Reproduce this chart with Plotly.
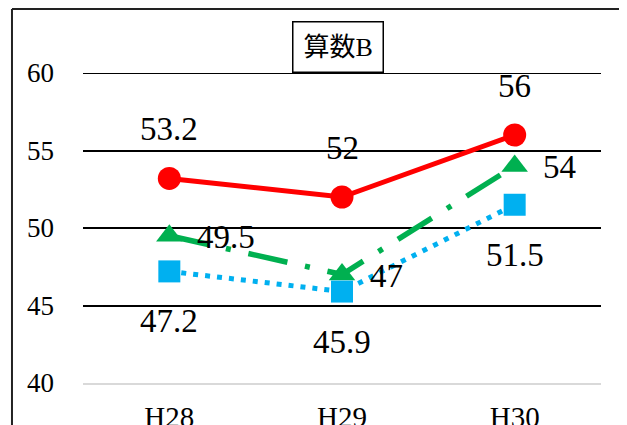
import plotly.graph_objects as go

categories = ["H28", "H29", "H30"]
red_values = [53.2, 52, 56]
green_values = [49.5, 47, 54]
blue_values = [47.2, 45.9, 51.5]
y_ticks = [40, 45, 50, 55, 60]
title_text = "算数B"

FONT = "Liberation Serif, Liberation Sans, Noto Sans CJK JP, sans-serif"

fig = go.Figure()
fig.add_trace(go.Scatter(
    x=categories, y=red_values, mode="lines+markers",
    line=dict(color="#FF0000", width=5),
    marker=dict(symbol="circle", size=23, color="#FF0000", line=dict(width=0))))
fig.add_trace(go.Scatter(
    x=categories, y=green_values, mode="lines+markers",
    line=dict(color="#00B050", width=5.5, dash="40px,18px,5px,18px"),
    marker=dict(symbol="triangle-up", size=23, color="#00B050", line=dict(width=0))))
fig.add_trace(go.Scatter(
    x=categories, y=blue_values, mode="lines+markers",
    line=dict(color="#00B0F0", width=5, dash="5px,7px"),
    marker=dict(symbol="square", size=22, color="#00B0F0", line=dict(width=0))))

label_font = dict(family=FONT, size=33, color="black")
annotations = []
for c, v in zip(categories, red_values):
    annotations.append(dict(x=c, y=v, xref="x", yref="y", text=str(v), showarrow=False,
                            yshift=49, font=label_font))
for c, v in zip(categories, green_values):
    annotations.append(dict(x=c, y=v, xref="x", yref="y", text=str(v), showarrow=False,
                            xanchor="left", xshift=26, yshift=-1, font=label_font))
for c, v in zip(categories, blue_values):
    annotations.append(dict(x=c, y=v, xref="x", yref="y", text=str(v), showarrow=False,
                            yshift=-50, font=label_font))
annotations.append(dict(x=0.4923, y=1, xref="paper", yref="paper", xanchor="center",
                        yanchor="bottom", text=title_text, showarrow=False,
                        font=dict(family=FONT, size=26, color="black"),
                        bordercolor="black", borderwidth=1.5, borderpad=10,
                        bgcolor="white"))

# page body has an 8px margin, so the figure is offset by 8px
fig.update_layout(
    width=627, height=425,
    margin=dict(l=75, r=34, t=65, b=50),
    paper_bgcolor="white", plot_bgcolor="white",
    showlegend=False,
    font=dict(family=FONT, color="black"),
    annotations=annotations,
)
fig.update_xaxes(type="category", range=[-0.5, 2.5], showgrid=False,
                 showline=True, linecolor="#D9D9D9", linewidth=2,
                 ticks="", tickfont=dict(family=FONT, size=29, color="black"),
                 ticklabelstandoff=7, zeroline=False, automargin=False)
fig.update_yaxes(range=[y_ticks[0], y_ticks[-1]], tickvals=y_ticks, showgrid=True,
                 gridcolor="black", gridwidth=2, zeroline=False,
                 showline=False, ticks="", tickfont=dict(family=FONT, size=27, color="black"),
                 ticklabelstandoff=28, automargin=False)

# top gridline (plotly drops gridlines lying on the plot edge)
fig.add_shape(type="line", xref="paper", yref="y", x0=0, x1=1,
              y0=y_ticks[-1], y1=y_ticks[-1], line=dict(color="black", width=2), layer="below")

# outer chart frame (cropped at right and bottom)
fig.add_shape(type="line", xref="paper", yref="paper", x0=-0.1371, x1=1.3,
              y0=1.2065, y1=1.2065, line=dict(color="#222222", width=2))
fig.add_shape(type="line", xref="paper", yref="paper", x0=-0.1371, x1=-0.1371,
              y0=-0.3, y1=1.2065, line=dict(color="#222222", width=2))

fig.write_html("out.html")
